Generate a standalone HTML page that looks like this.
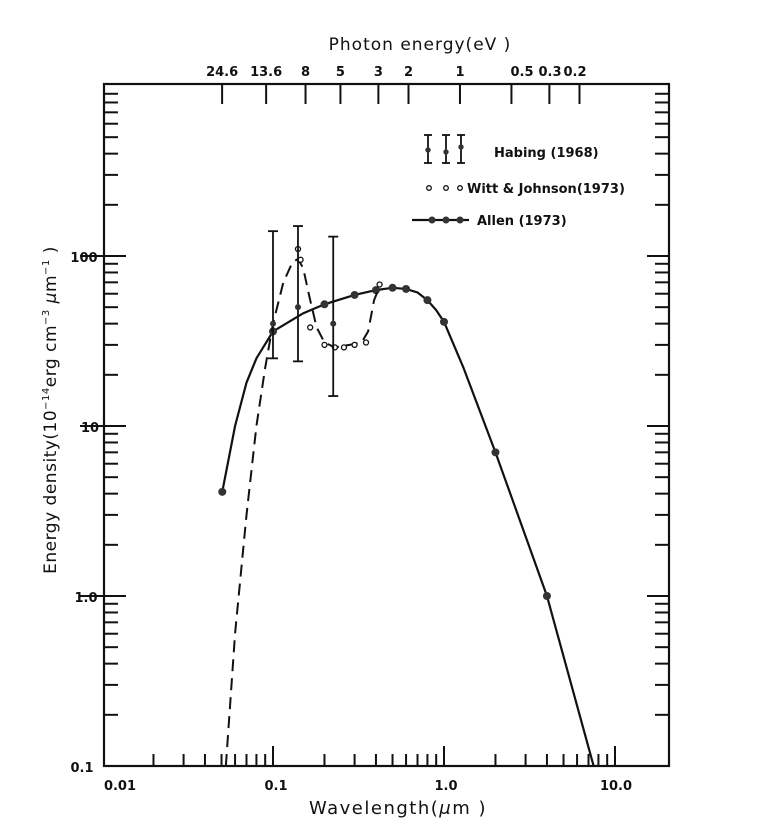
<!DOCTYPE html>
<html><head><meta charset="utf-8"><style>
body{margin:0;background:#fff}
svg{display:block}
text{font-family:"DejaVu Sans","Liberation Sans",sans-serif;fill:#111}
</style></head><body>
<svg id="s" width="767" height="832" viewBox="0 0 767 832" xmlns="http://www.w3.org/2000/svg">
<rect x="104" y="84" width="565" height="682" fill="none" stroke="#111" stroke-width="2.2"/>
<text x="420" y="50" font-size="17" text-anchor="middle" letter-spacing="1">Photon energy(eV )</text>
<text x="398" y="814" font-size="18" text-anchor="middle" letter-spacing="1.5">Wavelength(<tspan font-style="italic">μ</tspan>m )</text>
<text transform="translate(56,410) rotate(-90)" font-size="17" text-anchor="middle" letter-spacing="0.5">Energy density(10<tspan font-size="10" dy="-7">−14</tspan><tspan dy="7">erg cm</tspan><tspan font-size="10" dy="-7">−3</tspan><tspan dy="7"> </tspan><tspan font-style="italic">μ</tspan>m<tspan font-size="10" dy="-7">−1</tspan><tspan dy="7"> )</tspan></text>
<g font-size="13" font-weight="bold" text-anchor="middle">
<text x="120" y="790">0.01</text><text x="276" y="790">0.1</text><text x="446" y="790">1.0</text><text x="616" y="790">10.0</text>
<text x="84" y="262">100</text><text x="90" y="432">10</text><text x="86" y="602">1.0</text><text x="82" y="772">0.1</text>
</g>
<g id="g"></g>
<g font-size="13" font-weight="bold">
<text x="494" y="157">Habing (1968)</text>
<text x="467" y="193">Witt &amp; Johnson(1973)</text>
<text x="477" y="225">Allen (1973)</text>
</g>
</svg>
<script>
const g=document.getElementById('g');const NS='http://www.w3.org/2000/svg';
function el(t,a){const e=document.createElementNS(NS,t);for(const k in a)e.setAttribute(k,a[k]);g.appendChild(e);return e;}
const X=l=>273+171*Math.log10(l/0.1), Y=v=>766-170*(Math.log10(v)+1);
const ln=(x1,y1,x2,y2,w)=>el('line',{x1,y1,x2,y2,stroke:'#111','stroke-width':w||2});
for(let d=-2;d<=0;d++)for(let m=1;m<=9;m++){const l=m*Math.pow(10,d);if(l<0.011&&m==1)continue;const x=X(l);ln(x,766,x,m==1?746:754);}
ln(X(10),766,X(10),746);
for(let d=-1;d<=2;d++)for(let m=1;m<=9;m++){const v=m*Math.pow(10,d);const y=Y(v);if(y<86||y>764)continue;const L=m==1?22:14;ln(104,y,104+L,y);ln(669,y,669-L,y);}
ln(80,Y(100),104,Y(100));ln(80,Y(10),104,Y(10));ln(80,Y(1),104,Y(1));
const E=[["24.6",24.6],["13.6",13.6],["8",8],["5",5],["3",3],["2",2],["1",1],["0.5",0.5],["0.3",0.3],["0.2",0.2]];
const ex={"0.5":522,"0.3":550,"0.2":575};
E.forEach(([s,e])=>{const x=X(1.2398/e);ln(x,84,x,104);const t=el('text',{x:ex[s]||x,y:76,'font-size':13,'font-weight':'bold','text-anchor':'middle'});t.textContent=s;});
const A=[[0.0505,4.1],[0.06,10],[0.07,18],[0.08,25],[0.1,36],[0.15,46],[0.2,52],[0.3,59],[0.4,63],[0.5,65],[0.6,64],[0.7,61],[0.8,55],[0.9,48],[1.0,41],[1.3,22],[2,7],[4,1],[7.5,0.1]];
function smooth(P){let d='M'+P[0].join(',');for(let i=1;i<P.length;i++)d+=' L'+P[i].join(',');return d;}
el('path',{d:smooth(A.map(p=>[X(p[0]),Y(p[1])])),fill:'none',stroke:'#111','stroke-width':2.2});
[[0.0505,4.1],[0.1,36],[0.2,52],[0.3,59],[0.4,63],[0.5,65],[0.6,64],[0.8,55],[1.0,41],[2,7],[4,1]].forEach(p=>el('circle',{cx:X(p[0]),cy:Y(p[1]),r:4,fill:'#333'}));
const W=[[0.053,0.1],[0.06,0.6],[0.07,3],[0.08,10],[0.09,22],[0.1,40],[0.115,70],[0.13,92],[0.14,96],[0.15,85],[0.165,55],[0.18,38],[0.2,31],[0.23,29],[0.28,30],[0.33,31],[0.36,36],[0.39,55],[0.42,66]];
el('path',{d:smooth(W.map(p=>[X(p[0]),Y(p[1])])),fill:'none',stroke:'#111','stroke-width':2,'stroke-dasharray':'12,7'});
[[0.14,110],[0.145,95],[0.165,38],[0.2,30],[0.23,29],[0.26,29],[0.3,30],[0.35,31],[0.42,68]].forEach(p=>el('circle',{cx:X(p[0]),cy:Y(p[1]),r:2.5,fill:'#fff',stroke:'#111','stroke-width':1.3}));
[[0.1,140,25,40],[0.14,150,24,50],[0.225,130,15,40]].forEach(([l,h,lo,v])=>{const x=X(l);ln(x,Y(h),x,Y(lo),1.8);ln(x-5,Y(h),x+5,Y(h),1.8);ln(x-5,Y(lo),x+5,Y(lo),1.8);el('circle',{cx:x,cy:Y(v),r:3,fill:'#333'});});
[[428,150],[446,152],[461,147]].forEach(([x,y])=>{ln(x,135,x,163,1.8);ln(x-4,135,x+4,135,1.8);ln(x-4,163,x+4,163,1.8);el('circle',{cx:x,cy:y,r:2.7,fill:'#333'});});
[429,446,460].forEach(x=>el('circle',{cx:x,cy:188,r:2.3,fill:'#fff',stroke:'#111','stroke-width':1.3}));
ln(412,220,469,220,2.2);[432,446,460].forEach(x=>el('circle',{cx:x,cy:220,r:3.5,fill:'#333'}));
</script>
</body></html>
